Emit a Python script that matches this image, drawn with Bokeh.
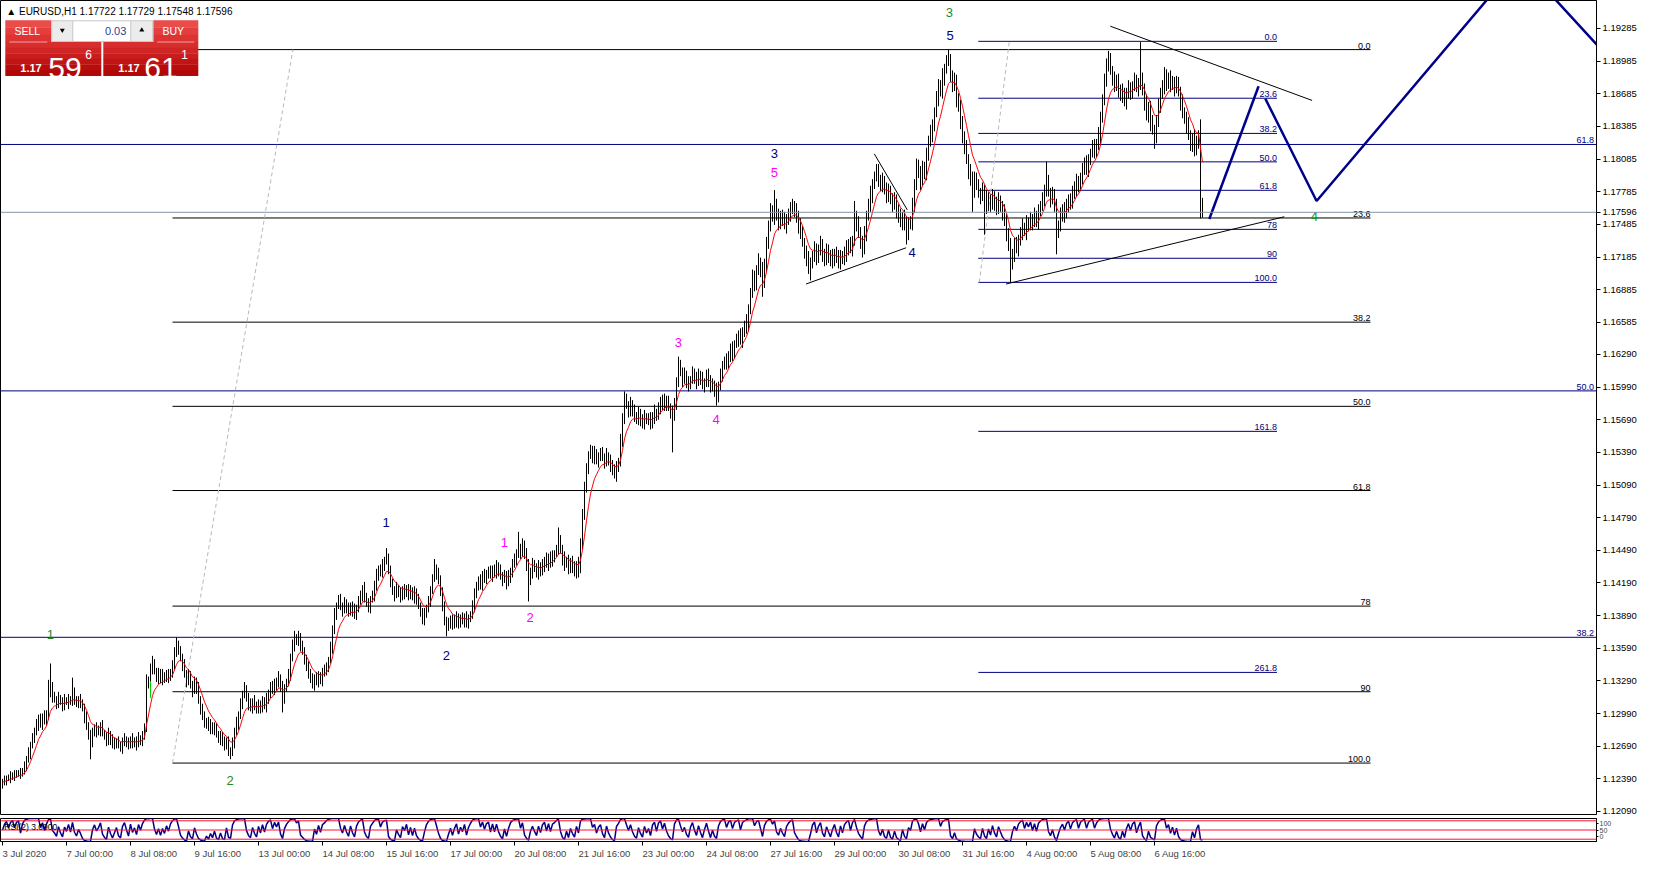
import numpy as np
from bokeh.plotting import figure
from bokeh.models import Range1d, FixedTicker, PrintfTickFormatter, Label, Span
from bokeh.layouts import column
from bokeh.embed import file_html
from bokeh.resources import INLINE
from bokeh.core.properties import value

# ---------------- data: EURUSD H1, 3 Jul 2020 16:00 .. 7 Aug 2020 16:00 ----------------
BASE, PIP = 1.1200, 0.0001   # closes / highs / lows are given in pips above 1.1200

CLOSE_W1 = [36, 38, 40, 39, 41, 43, 42, 44, 45, 43, 46,
            50, 56, 62, 70, 76, 82, 88,
            94, 90, 96, 92, 98,
            118, 125, 115,
            112, 108, 114, 110, 106, 111, 109, 113, 110, 118, 112, 108, 111, 109, 104,
            96, 88, 80, 72, 80, 86, 82, 84,
            88, 82, 78, 74, 80, 76, 70, 72, 74, 70, 68, 72, 75, 73, 70, 76, 72, 74, 71, 76, 74, 78,
            86, 128, 130, 140, 145, 138,
            132, 136, 130, 134, 131, 135, 133, 137, 142,
            155, 162, 158, 150,
            144, 136, 128, 134, 126, 120, 128, 122, 112,
            104, 96, 90, 92, 86, 88, 84, 86, 80, 76, 78, 72, 70, 74, 66, 64, 72,
            82, 90, 98, 108, 116, 122, 114,
            108, 104, 110, 106, 102]
CLOSE_W2 = [108, 104, 110, 106, 112,
            118, 124, 120, 128, 126, 132, 124, 114, 122, 128, 134,
            150, 162, 168, 166, 170,
            160, 156, 150, 142, 136, 130, 126, 132, 128, 134, 130, 136, 138, 142, 148,
            160, 176, 190, 198, 204,
            198, 194, 200, 196, 192, 198, 194, 190, 196,
            202, 208, 214, 206, 200, 196, 204, 208,
            216, 226, 232, 228, 236, 240, 242,
            230, 220, 212, 208, 214, 210, 206, 212, 210, 214, 208, 212, 206, 210, 204,
            198, 192, 186, 190, 196, 202,
            212, 224, 232, 228, 222,
            212, 196, 184, 178, 182,
            186, 180, 184, 188, 182, 186, 184, 188, 182, 186, 190,
            198, 208, 216, 222, 218, 226, 222, 228, 230,
            226, 232, 228, 234]
CLOSE_W3 = [230, 226, 222, 226, 220, 224, 230, 236, 240, 246,
            252, 248, 254, 244, 236, 222,
            230, 236, 232, 228, 234, 230, 236, 240, 236, 242, 238, 244, 246, 250,
            256, 250, 242,
            236, 240, 232, 238, 234, 230, 236, 232,
            256, 282, 306, 326, 336,
            340, 334, 338, 332, 336, 338, 334, 330, 336, 332, 328, 322, 318, 326, 330,
            350, 372, 388, 382, 376, 384, 378, 372, 368,
            374, 370, 366, 372, 368, 370, 366, 372, 376, 372, 380,
            386, 382, 388, 384, 380, 376, 372,
            384, 404, 418, 412, 406,
            410, 404, 400, 406, 412, 408, 404, 410, 406, 400, 404, 410, 406, 398, 402, 396, 392,
            400, 410, 418, 424, 420, 428, 434, 430, 438, 442]
CLOSE_W4 = [446, 442, 450, 454, 458,
            470, 486, 500, 494, 506, 514, 508, 496, 512, 530,
            548, 560, 556, 568, 556,
            550, 556, 552, 548, 554, 558, 562, 566, 560, 556, 548,
            540, 532, 524, 516, 508, 512, 520,
            526, 518, 524, 530, 522, 516, 524, 520, 514, 518,
            522, 518, 514, 520, 516, 522, 526, 530, 526, 534,
            556, 548, 540, 534, 526, 540,
            556, 566, 576, 586, 592, 598,
            590, 584, 588, 580, 576, 580, 572, 566, 570, 562, 556, 550, 556, 548, 542,
            550, 548, 566, 586, 600, 596,
            588, 602, 596, 612, 624, 632, 640,
            652, 664, 676, 670, 684, 692, 698, 700,
            686, 676, 680, 664, 656, 642, 630, 618, 608,
            598, 590, 580, 592, 584]
CLOSE_W5 = [578, 574, 580, 572, 566,
            572, 566, 574, 568, 562, 570, 566, 560, 552, 540,
            528, 512, 522,
            530, 526, 534, 540, 546, 542, 550, 548, 554, 550, 556, 552, 560,
            566, 572, 580, 588, 578, 572, 576, 566, 540,
            548, 556, 562, 558, 566, 572, 568, 576, 582, 588, 584, 592, 598, 604, 600, 608, 614, 620, 616, 622, 630,
            646, 664, 682, 694, 698, 690, 684,
            676, 680, 672, 666, 670, 662, 668, 674, 670, 676, 680, 674, 678,
            684,
            672, 660, 648, 656, 642, 636, 630, 644, 656,
            668, 676, 684, 678, 682, 676, 680, 674, 678, 670,
            660, 652, 646, 640, 630, 622, 628, 616, 624, 630,
            572.2, 559.6]

# upper / lower wicks (pips beyond the bar body)
UP_W1 = [3,4,2,3,5,2,4,3,2,4, 3,5,4,6,3,5,4,6,4,5, 3,6,4,4,5,3,4,3,5,2, 4,6,3,4,2,5,5,3,4,6,
         3,4,5,3,4,6,3,5,4,3, 5,2,4,6,3,4,5,2,4,3, 5,6,3,4,2,5,3,4,6,3, 5,4,6,3,5,4,4,3,5,4,
         6,3,4,5,3,6,5,4,4,3, 4,5,3,6,4,3,5,4,6,3, 4,5,3,4,6,3,5,4,3,5, 4,6,3,4,2,5,4,6,3,5,
         4,6,3,4,5,3,6,4]
DN_W1 = [4,3,5,2,4,3,5,2,3,4, 2,3,4,2,5,3,4,3,5,4, 6,3,4,5,4,6,3,5,4,3, 5,4,2,6,3,4,5,3,4,5,
         3,6,4,5,3,4,2,5,3,6, 4,3,5,4,6,3,4,5,3,4, 6,3,5,4,3,5,4,6,3,4, 5,3,4,6,4,5,3,4,6,3,
         5,4,3,6,4,5,3,4,5,3, 6,4,5,3,4,6,3,5,4,6, 3,4,5,3,6,4,5,3,4,6, 3,5,4,6,3,4,5,3,6,4,
         5,3,4,6,3,5,4,3]
UP_W2 = [4,3,5,4,6,3,4,5,3,4, 6,3,5,4,3,6,4,5,3,4, 5,3,6,4,3,5,4,6,3,5, 4,3,5,6,4,3,5,4,6,3,
         4,5,3,6,4,5,3,4,6,3, 5,4,3,6,4,5,3,4,5,6, 3,4,5,3,6,4,5,3,4,6, 3,5,4,6,3,4,5,3,6,4,
         5,3,4,6,3,5,4,3,6,4, 5,4,3,6,4,5,3,4,6,5, 3,4,6,3,5,4,3,5,6,4, 3,5,4,6,3,4,5,3,4,6]
DN_W2 = [3,5,4,3,6,4,5,3,4,6, 3,5,4,6,3,4,5,3,6,4, 5,4,3,6,4,5,3,4,6,3, 5,4,6,3,4,5,3,6,4,5,
         3,4,6,3,5,4,3,6,4,5, 4,3,6,5,3,4,5,3,6,4, 5,3,4,6,4,3,5,4,6,3, 4,5,3,6,4,5,4,3,6,5,
         3,4,5,6,3,4,5,3,4,6, 4,5,3,4,6,3,5,4,3,6, 5,4,3,6,4,5,3,4,6,3, 4,5,6,3,4,5,3,6,4,5]
UP_W3 = [4,6,3,5,4,7,3,5,6,4, 5,3,6,4,7,5,3,6,4,5, 6,4,5,3,7,4,6,5,3,4, 5,7,4,6,3,5,4,6,5,3,
         7,4,5,6,3,4,6,5,7,4, 3,5,6,4,7,3,5,4,6,5, 4,6,3,7,5,4,6,3,5,4, 7,5,4,6,3,5,6,4,7,3,
         5,4,6,5,3,7,4,6,5,4, 3,6,5,7,4,5,3,6,4,5, 6,4,7,3,5,6,4,5,3,7, 4,6,5,3,6,4,5,7,4,6]
DN_W3 = [5,4,6,3,7,4,5,6,3,5, 4,7,5,3,6,4,5,7,3,4, 6,5,4,7,3,6,5,4,6,3, 5,4,7,6,3,5,4,6,5,7,
         3,4,6,5,4,7,3,5,6,4, 7,5,3,6,4,5,7,4,3,6, 5,4,6,7,3,5,4,6,5,3, 4,7,5,6,3,4,6,5,7,4,
         3,6,4,5,7,3,6,5,4,6, 5,3,7,4,6,5,3,4,6,7, 4,5,3,6,5,7,4,3,6,5, 7,4,6,3,5,4,6,7,5,3]
UP_W4 = [5,7,4,6,8,5,4,7,6,5, 8,4,6,5,7,4,8,6,5,4, 7,5,6,8,4,5,7,6,4,8, 5,6,7,4,5,8,6,4,7,5,
         6,8,5,4,7,6,5,8,4,6, 7,5,4,6,8,5,7,4,6,5, 8,6,4,7,5,6,8,4,5,7, 6,4,8,5,7,6,4,5,8,6,
         5,7,4,6,8,5,6,7,4,5, 8,6,5,4,7,6,8,5,4,7, 6,5,8,4,6,7,5,4,8,6, 5,7,6,4,8,5,6,7,5,4]
DN_W4 = [6,4,7,5,6,8,4,5,7,6, 4,8,5,6,7,4,6,5,8,4, 7,6,5,4,8,6,7,4,5,6, 8,5,4,7,6,5,8,4,6,7,
         5,4,8,6,5,7,4,6,8,5, 6,7,4,5,8,6,4,7,5,6, 4,8,6,5,7,4,6,8,5,4, 7,5,6,4,8,7,5,6,4,8,
         6,4,7,5,6,8,4,5,7,6, 5,8,4,6,7,5,4,8,6,5, 7,4,6,8,5,4,7,6,5,8, 4,6,7,5,4,8,6,5,7,4]
UP_W5 = [6,4,7,5,8,6,4,7,5,6, 8,5,4,7,6,5,8,4,6,7, 5,6,8,4,7,5,6,4,8,5, 7,4,6,5,8,6,4,7,5,6,
         4,8,5,7,6,4,5,8,6,7, 5,4,7,6,8,5,4,6,7,5, 8,6,4,5,7,6,8,4,5,6, 7,5,8,4,6,7,5,4,8,6,
         5,7,4,6,8,5,6,7,4,5, 8,6,5,4,7,6,8,5,4,7, 6,5,8,4,6,7,5,4,8,6, 5,3,1]
DN_W5 = [5,7,4,6,8,5,6,4,7,5, 4,6,8,5,7,4,6,5,8,4, 7,5,6,4,8,6,5,7,4,6, 8,4,5,7,6,4,8,5,6,7,
         4,6,5,8,4,7,6,5,4,8, 6,5,7,4,6,8,5,4,7,6, 5,8,4,6,7,5,4,8,6,5, 7,4,6,5,8,4,7,6,5,4,
         8,6,5,7,4,6,8,5,4,7, 6,5,4,8,7,5,6,4,8,5, 4,7,6,5,8,4,6,7,5,4, 6,5,4]

# extreme highs / lows of single bars (bar index -> pips)
SPIKE_HIGH = {23: 130, 24: 145, 35: 132, 72: 135, 75: 152, 87: 169, 121: 128, 146: 175,
              192: 251, 216: 241, 258: 266, 278: 270, 338: 427, 386: 580, 395: 572,
              426: 570, 437: 604, 457: 609, 473: 709, 522: 606, 553: 708, 569: 716,
              581: 693, 599: 645, 600: 572.9}
SPIKE_LOW = {44: 57, 114: 57, 140: 100, 222: 170, 263: 202, 288: 224, 335: 339, 357: 382,
             380: 482, 404: 497, 430: 518, 452: 530, 485: 560, 491: 539, 504: 495,
             527: 521, 576: 618, 599: 554, 600: 554.8}

MA_PERIOD = 8
RSI_PERIOD = 2
BID = 1.17596

PRICE_TICKS = [1.19285, 1.18985, 1.18685, 1.18385, 1.18085, 1.17785, 1.17485, 1.17185,
               1.16885, 1.16585, 1.16290, 1.15990, 1.15690, 1.15390, 1.15090, 1.14790,
               1.14490, 1.14190, 1.13890, 1.13590, 1.13290, 1.12990, 1.12690, 1.12390, 1.12090]
DATE_TICK_BARS = [0, 32, 64, 96, 128, 160, 192, 224, 256, 288, 320, 352, 384, 416, 448,
                  480, 512, 544, 576]
DATE_TICK_LABELS = ["3 Jul 2020", "7 Jul 00:00", "8 Jul 08:00", "9 Jul 16:00", "13 Jul 00:00",
                    "14 Jul 08:00", "15 Jul 16:00", "17 Jul 00:00", "20 Jul 08:00",
                    "21 Jul 16:00", "23 Jul 00:00", "24 Jul 08:00", "27 Jul 16:00",
                    "29 Jul 00:00", "30 Jul 08:00", "31 Jul 16:00", "4 Aug 00:00",
                    "5 Aug 08:00", "6 Aug 16:00"]

# Fibonacci objects
FIB_A_LEVELS = [0.0, 23.6, 38.2, 50.0, 61.8, 78.0, 90.0, 100.0]
FIB_A_TEXT = ["0.0", "23.6", "38.2", "50.0", "61.8", "78", "90", "100.0"]
FIB_A_HIGH, FIB_A_LOW = 1.19091, 1.12535
FIB_A_BARS = [85, 684]
FIB_A_ANCHOR = [[85, 145.2], [1.12535, 1.19091]]

FIB_B_LEVELS = [0.0, 23.6, 38.2, 50.0, 61.8, 78.0, 90.0, 100.0, 161.8, 261.8]
FIB_B_TEXT = ["0.0", "23.6", "38.2", "50.0", "61.8", "78", "90", "100.0", "161.8", "261.8"]
FIB_B_HIGH, FIB_B_LOW = 1.19167, 1.16952
FIB_B_BARS = [487.9, 637.25]
FIB_B_ANCHOR = [[488.4, 503.4], [1.16952, 1.19167]]

FIB_C_LEVELS = [38.2, 50.0, 61.8]
FIB_C_TEXT = ["38.2", "50.0", "61.8"]
FIB_C_HIGH, FIB_C_LOW = 1.2555, 1.0636

# trend lines
TREND_X0 = [553.9, 501.8, 401.8, 435.9]
TREND_Y0 = [1.19306, 1.16937, 1.16937, 1.18133]
TREND_X1 = [654.8, 640.9, 451.8, 452.4]
TREND_Y1 = [1.18624, 1.17555, 1.17270, 1.17618]

# projected path (thick blue)
ZZ1_BARS = [603.4, 628.05]
ZZ1_PRICES = [1.17534, 1.18754]
ZZ2_BARS = [631.4, 657.05, 758.7, 808.4]
ZZ2_PRICES = [1.18640, 1.17700, 1.19906, 1.18912]

GREEN_MARK = [74, 1.13134, 1.13289]

# wave counts
WAVE_TEXT = ["1", "2", "3", "4", "1", "2", "3", "4", "5", "1", "2", "3", "4", "5"]
WAVE_COLOR = ["#1f8c1f"] * 4 + ["#000080"] * 5 + ["#ff00ff"] * 5
WAVE_BARS = [23.9, 113.8, 473.4, 655.9, 191.75, 221.9, 385.9, 454.75, 473.75,
             250.9, 263.75, 337.9, 356.75, 385.9]
WAVE_PRICES = [1.13717, 1.12378, 1.19433, 1.17558, 1.14741, 1.13526, 1.18134, 1.17225,
               1.19218, 1.14559, 1.13877, 1.16398, 1.15689, 1.17961]

RSI_LEVELS = [90, 50, 10]
RSI_AXIS_TICKS = [20, 50, 80]
RSI_AXIS_TEXT = ["0", "50", "100"]

# ---------------- derived series ----------------
closes = CLOSE_W1 + CLOSE_W2 + CLOSE_W3 + CLOSE_W4 + CLOSE_W5
ups = UP_W1 + UP_W2 + UP_W3 + UP_W4 + UP_W5
dns = DN_W1 + DN_W2 + DN_W3 + DN_W4 + DN_W5
N = len(closes)
ups = (ups + [4] * N)[:N]
dns = (dns + [4] * N)[:N]
c = np.array(closes, float)
o = np.concatenate([[c[0] - 2], c[:-1]])
hi = np.maximum(o, c) + np.array(ups, float)
lo = np.minimum(o, c) - np.array(dns, float)
for b, v in SPIKE_HIGH.items():
    if b < N:
        hi[b] = v
for b, v in SPIKE_LOW.items():
    if b < N:
        lo[b] = v
idx = np.arange(N)
H = BASE + hi * PIP
L = BASE + lo * PIP
C = BASE + c * PIP

ema = np.zeros(N)
ema[0] = C[0]
a = 2.0 / (MA_PERIOD + 1)
for i in range(1, N):
    ema[i] = ema[i - 1] + a * (C[i] - ema[i - 1])

d = np.diff(c, prepend=c[0])
g = np.clip(d, 0, None)
l_ = np.clip(-d, 0, None)
ag = np.zeros(N); al = np.zeros(N)
ag[0], al[0] = 1.0, 1.0
for i in range(1, N):
    ag[i] = (ag[i - 1] * (RSI_PERIOD - 1) + g[i]) / RSI_PERIOD
    al[i] = (al[i - 1] * (RSI_PERIOD - 1) + l_[i]) / RSI_PERIOD
rsi = np.where(al == 0, 100.0, 100.0 - 100.0 / (1.0 + ag / np.where(al == 0, 1, al)))

# ---------------- geometry ----------------
FRAME_W, FRAME_H = 1596, 814
X0 = -1.0
X1 = X0 + FRAME_W / 2.0          # exactly 2 px per bar
Y_TOP, Y_BOT = 1.195422, 1.120624
FONT = "Liberation Sans"


def ux(px):   # reference pixel column -> bar units (for the on-chart trade panel)
    return (px - 3.2) / 2.0


def uy(py):   # reference pixel row -> price (for the on-chart trade panel)
    return 1.19285 - (py - 28.3) / 11003.0


p = figure(frame_width=FRAME_W, frame_height=FRAME_H, x_range=Range1d(X0, X1),
           y_range=Range1d(Y_BOT, Y_TOP), output_backend="svg", toolbar_location=None,
           x_axis_location=None, y_axis_location="right",
           min_border_left=0, min_border_right=0, min_border_top=0, min_border_bottom=4,
           background_fill_color="white", border_fill_color="white",
           outline_line_color="black", outline_line_width=1)
p.xgrid.visible = False
p.ygrid.visible = False
ax = p.yaxis[0]
ax.ticker = FixedTicker(ticks=PRICE_TICKS + [BID])
ax.formatter = PrintfTickFormatter(format="%.5f")
ax.major_tick_out = 4
ax.major_tick_in = 0
ax.minor_tick_out = 0
ax.minor_tick_in = 0
ax.major_label_standoff = 2
ax.major_label_text_font = FONT
ax.major_label_text_font_size = "9.5px"
ax.major_label_text_color = "black"
ax.axis_line_color = "black"

# big fib (navy, full width)
fc = [FIB_C_LOW + lv / 100.0 * (FIB_C_HIGH - FIB_C_LOW) for lv in FIB_C_LEVELS]
p.segment(x0=[X0 - 5] * len(fc), x1=[X1 + 5] * len(fc), y0=fc, y1=fc, line_color="#000080", line_width=1)
p.text(x=[X1 - 1.2] * len(fc), y=fc, text=FIB_C_TEXT, text_align="right", text_baseline="bottom",
       text_font=value(FONT), text_font_size="9px", text_color="#000080", y_offset=-1)

# fib A (black)
fa = [FIB_A_HIGH - lv / 100.0 * (FIB_A_HIGH - FIB_A_LOW) for lv in FIB_A_LEVELS]
p.segment(x0=[FIB_A_BARS[0]] * len(fa), x1=[FIB_A_BARS[1]] * len(fa), y0=fa, y1=fa,
          line_color="black", line_width=1)
p.text(x=[FIB_A_BARS[1]] * len(fa), y=fa, text=FIB_A_TEXT, text_align="right", text_baseline="bottom",
       text_font=value(FONT), text_font_size="9px", text_color="black", y_offset=-1)
p.line(FIB_A_ANCHOR[0], FIB_A_ANCHOR[1], line_color="#b8b8b8", line_dash="4 3", line_width=1)

# fib B (navy)
fb = [FIB_B_HIGH - lv / 100.0 * (FIB_B_HIGH - FIB_B_LOW) for lv in FIB_B_LEVELS]
p.segment(x0=[FIB_B_BARS[0]] * len(fb), x1=[FIB_B_BARS[1]] * len(fb), y0=fb, y1=fb,
          line_color="#000080", line_width=1)
p.text(x=[FIB_B_BARS[1]] * len(fb), y=fb, text=FIB_B_TEXT, text_align="right", text_baseline="bottom",
       text_font=value(FONT), text_font_size="9px", text_color="#000080", y_offset=-1)
p.line(FIB_B_ANCHOR[0], FIB_B_ANCHOR[1], line_color="#b8b8b8", line_dash="4 3", line_width=1)

# bid line
p.add_layout(Span(location=BID, dimension="width", line_color="#8896a6", line_width=1))

# bars + MA
p.segment(x0=idx, x1=idx, y0=L, y1=H, line_color="black", line_width=1)
p.segment(x0=[GREEN_MARK[0]], x1=[GREEN_MARK[0]], y0=[GREEN_MARK[1]], y1=[GREEN_MARK[2]],
          line_color="#00d000", line_width=1)
p.line(idx, ema, line_color="#ff0000", line_width=1)

# trend lines
p.segment(x0=TREND_X0, y0=TREND_Y0, x1=TREND_X1, y1=TREND_Y1, line_color="black", line_width=1)

# projection
p.line(ZZ1_BARS, ZZ1_PRICES, line_color="#00008b", line_width=2.5)
p.line(ZZ2_BARS, ZZ2_PRICES, line_color="#00008b", line_width=2.5)

# wave labels
p.text(x=WAVE_BARS, y=WAVE_PRICES, text=WAVE_TEXT, text_color=WAVE_COLOR, text_align="center",
       text_baseline="middle", text_font=value(FONT), text_font_size="13px")

# ---------------- trade panel (one-click trading) ----------------
TOP_BANDS = ["#ea4c4a", "#e43f3e", "#dd3333"]
LOW_BANDS = ["#d72d2d", "#d02525", "#c91d1d", "#c11515", "#b90d0d", "#b10707"]


def bands(l, r, t, b, cols):
    n = len(cols)
    step = (b - t) / n
    for k, col in enumerate(cols):
        p.quad(left=ux(l), right=ux(r), top=uy(t + k * step), bottom=uy(t + (k + 1) * step + 0.3),
               fill_color=col, line_color=None)


bands(6, 52, 20, 42, TOP_BANDS)
bands(6, 102, 42, 76, LOW_BANDS)
bands(154, 199, 20, 42, TOP_BANDS)
bands(104, 199, 42, 76, LOW_BANDS)
p.segment(x0=[ux(10), ux(158)], x1=[ux(48), ux(195)], y0=[uy(42), uy(42)], y1=[uy(42), uy(42)],
          line_color="#f2a0a0", line_width=1)
p.quad(left=ux(52), right=ux(154), top=uy(20), bottom=uy(42), fill_color="#c8c8c8", line_color=None)
p.quad(left=ux(53), right=ux(73), top=uy(21), bottom=uy(41), fill_color="#ececec", line_color=None)
p.quad(left=ux(74), right=ux(131), top=uy(21), bottom=uy(41), fill_color="white", line_color=None)
p.quad(left=ux(132), right=ux(153), top=uy(21), bottom=uy(41), fill_color="#ececec", line_color=None)
p.scatter(x=[ux(63)], y=[uy(30)], marker="inverted_triangle", size=5, fill_color="black", line_color=None)
p.scatter(x=[ux(142.5)], y=[uy(30)], marker="triangle", size=5, fill_color="black", line_color=None)


def lab(x, y, t, size, color="white", align="left", base="middle", style="normal"):
    p.add_layout(Label(x=ux(x), y=uy(y), text=t, text_font=FONT, text_font_size=size,
                       text_color=color, text_align=align, text_baseline=base,
                       text_font_style=style))


lab(28, 31, "SELL", "10.5px", align="center")
lab(174, 31, "BUY", "10.5px", align="center")
lab(127, 31, "0.03", "11px", color="#2a3f8f", align="right")
lab(21, 68.5, "1.17", "11px", base="alphabetic", style="bold")
lab(49, 68.5, "59", "30px", base="alphabetic")
lab(86, 55, "6", "12px", base="alphabetic")
lab(119, 68.5, "1.17", "11px", base="alphabetic", style="bold")
lab(145, 68.5, "61", "30px", base="alphabetic")
lab(182, 55, "1", "12px", base="alphabetic")
lab(7, 11, "\u25b2 EURUSD,H1  1.17722 1.17729 1.17548 1.17596", "10px", color="black")

# ---------------- RSI sub-window ----------------
r = figure(frame_width=FRAME_W, frame_height=23, x_range=p.x_range, y_range=Range1d(0, 100),
           output_backend="svg", toolbar_location=None, y_axis_location="right",
           min_border_left=0, min_border_right=0, min_border_top=0, min_border_bottom=0,
           background_fill_color="white", border_fill_color="white",
           outline_line_color="black", outline_line_width=1)
r.xgrid.visible = False
r.ygrid.visible = False
for lv in RSI_LEVELS:
    r.add_layout(Span(location=lv, dimension="width", line_color="#ff1030", line_width=1))
r.line(idx, rsi, line_color="#00008b", line_width=1.5)
r.add_layout(Label(x=ux(5), y=65, text="RSI(2) 3.0900", text_font=FONT, text_font_size="8.5px",
                   text_color="black", text_baseline="middle"))
ry = r.yaxis[0]
ry.ticker = FixedTicker(ticks=RSI_AXIS_TICKS)
ry.major_label_overrides = {t: s for t, s in zip(RSI_AXIS_TICKS, RSI_AXIS_TEXT)}
ry.major_label_text_font = FONT
ry.major_label_text_font_size = "7px"
ry.major_tick_out = 2
ry.major_tick_in = 0
ry.minor_tick_out = 0
ry.minor_tick_in = 0
ry.major_label_standoff = 1
rx = r.xaxis[0]
rx.ticker = FixedTicker(ticks=DATE_TICK_BARS)
rx.major_label_overrides = {b: t for b, t in zip(DATE_TICK_BARS, DATE_TICK_LABELS)}
rx.major_label_orientation = -1e-4      # tiny tilt -> labels start at their tick
rx.major_label_text_font = FONT
rx.major_label_text_font_size = "9.5px"
rx.major_tick_out = 4
rx.major_tick_in = 0
rx.minor_tick_out = 0
rx.minor_tick_in = 0
rx.major_label_standoff = 8
rx.axis_line_color = "black"

layout = column(p, r)
open("out.html", "w").write(file_html(layout, INLINE))
